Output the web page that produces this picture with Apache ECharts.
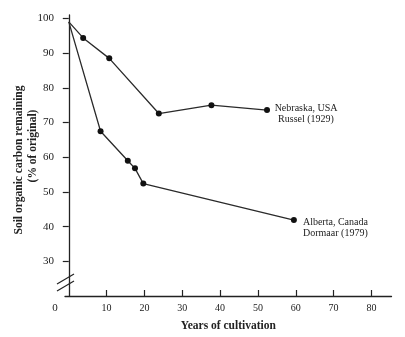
<!DOCTYPE html>
<html>
<head>
<meta charset="utf-8">
<script src="https://cdn.jsdelivr.net/npm/echarts@6/dist/echarts.min.js"></script>
<style>
html,body{margin:0;padding:0;background:#fff;}
#c{width:405px;height:337px;}
</style>
</head>
<body>
<div id="c"></div>
<script>
const yearsNebraska = [0, 3.8, 10.7, 23.8, 37.7, 52.4];
const carbonNebraska = [99, 94.4, 88.5, 72.6, 75.0, 73.6];
const yearsAlberta = [0, 8.4, 15.6, 17.5, 19.7, 59.5];
const carbonAlberta = [99, 67.5, 59.0, 56.8, 52.4, 41.9];
const xTickValues = [10, 20, 30, 40, 50, 60, 70, 80];
const yTickValues = [30, 40, 50, 60, 70, 80, 90, 100];
const labelNebraska = 'Nebraska, USA\nRussel (1929)';
const labelAlberta = 'Alberta, Canada\nDormaar (1979)';
const xTitle = 'Years of cultivation';
const yTitle1 = 'Soil organic carbon remaining';
const yTitle2 = '(% of original)';
const originLabel = '0';

const serif = '"Liberation Serif", "DejaVu Serif", serif';
const ink = '#222';

function buildData(xs, ys, label, offset) {
  return xs.map((x, i) => {
    const item = { value: [x, ys[i]] };
    if (i === 0) item.symbol = 'none';
    if (i === xs.length - 1) {
      item.label = {
        show: true, position: 'inside', offset: offset,
        formatter: label, align: 'center', verticalAlign: 'middle',
        fontFamily: serif, fontSize: 10, lineHeight: 11, color: ink
      };
    }
    return item;
  });
}

const chart = echarts.init(document.getElementById('c'), null, { renderer: 'canvas' });
chart.setOption({
  backgroundColor: '#fff',
  animation: false,
  grid: { left: 65, right: 13.5, top: 15, bottom: 34.3 },
  xAxis: {
    type: 'value', min: -1, max: 85.3,
    splitLine: { show: false },
    axisLine: { show: true, lineStyle: { color: ink, width: 1.3 } },
    axisTick: { show: true, inside: true, length: 6, customValues: xTickValues, lineStyle: { color: ink, width: 1.2 } },
    axisLabel: { customValues: xTickValues, margin: 7, fontFamily: serif, fontSize: 10, color: ink },
    name: xTitle, nameLocation: 'middle', nameGap: 24,
    nameTextStyle: { fontFamily: serif, fontSize: 11.5, fontWeight: 'bold', color: ink }
  },
  yAxis: {
    type: 'value', min: 20, max: 101,
    splitLine: { show: false },
    axisLine: { show: true, lineStyle: { color: ink, width: 1.3 } },
    axisTick: { show: true, inside: false, length: 6, customValues: yTickValues, lineStyle: { color: ink, width: 1.2 } },
    axisLabel: { customValues: yTickValues, margin: 11, fontFamily: serif, fontSize: 11, color: ink }
  },
  series: [
    {
      type: 'line', data: buildData(yearsNebraska, carbonNebraska, labelNebraska, [39, 4]),
      symbol: 'circle', symbolSize: 6,
      itemStyle: { color: '#111' }, lineStyle: { color: '#2a2a2a', width: 1.3 }
    },
    {
      type: 'line', data: buildData(yearsAlberta, carbonAlberta, labelAlberta, [41.5, 7.5]),
      symbol: 'circle', symbolSize: 6,
      itemStyle: { color: '#111' }, lineStyle: { color: '#2a2a2a', width: 1.3 }
    }
  ],
  graphic: [
    { type: 'text', x: 19, y: 160, rotation: Math.PI / 2,
      style: { text: yTitle1, align: 'center', verticalAlign: 'middle', fontFamily: serif, fontSize: 11.5, fontWeight: 'bold', fill: ink } },
    { type: 'text', x: 33, y: 146, rotation: Math.PI / 2,
      style: { text: yTitle2, align: 'center', verticalAlign: 'middle', fontFamily: serif, fontSize: 11.5, fontWeight: 'bold', fill: ink } },
    { type: 'text', x: 55, y: 308,
      style: { text: originLabel, align: 'center', verticalAlign: 'middle', fontFamily: serif, fontSize: 11, fill: ink } },
    { type: 'rect', z: 100, shape: { x: 62, y: 279, width: 6, height: 7 }, style: { fill: '#fff' } },
    { type: 'line', z: 101, shape: { x1: 57, y1: 284, x2: 74, y2: 274 }, style: { stroke: ink, lineWidth: 1.2 } },
    { type: 'line', z: 101, shape: { x1: 57, y1: 291, x2: 74, y2: 281 }, style: { stroke: ink, lineWidth: 1.2 } }
  ]
});
</script>
</body>
</html>
